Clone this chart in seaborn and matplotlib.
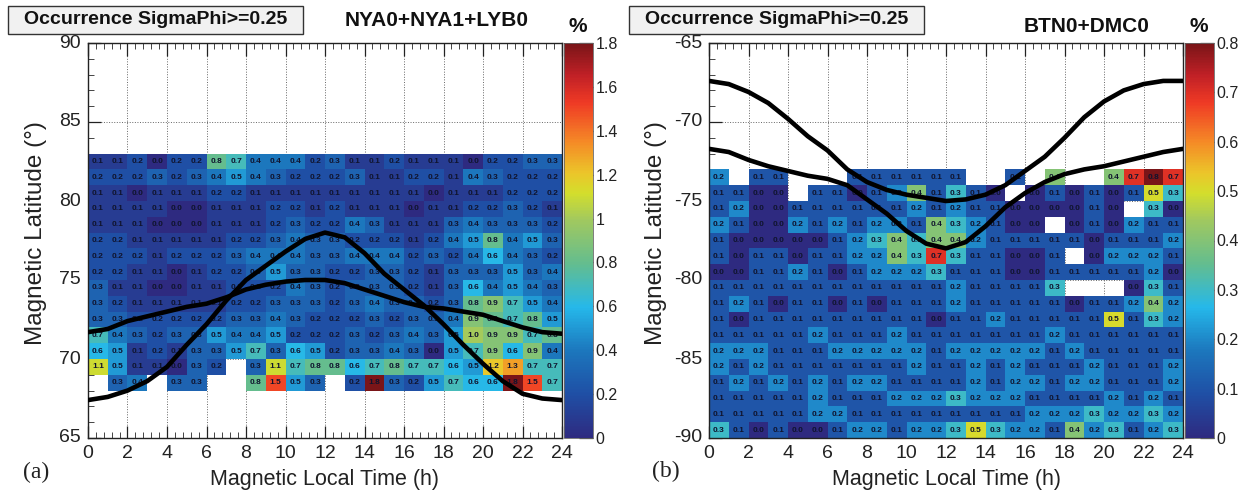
import numpy as np
import matplotlib
matplotlib.use("Agg")
import matplotlib.pyplot as plt
import seaborn as sns
from matplotlib.colors import LinearSegmentedColormap
from matplotlib.patches import Rectangle
from matplotlib.ticker import MultipleLocator

n = np.nan

# === Occurrence values, top row first, 24 one-hour columns ===
rows_a = [
    [0.1, 0.1, 0.2, 0.0, 0.2, 0.2, 0.8, 0.7, 0.4, 0.4, 0.4, 0.2, 0.3, 0.1, 0.1, 0.2, 0.1, 0.1, 0.1, 0.0, 0.2, 0.2, 0.3, 0.3],
    [0.2, 0.2, 0.2, 0.3, 0.2, 0.3, 0.4, 0.5, 0.4, 0.3, 0.2, 0.2, 0.2, 0.3, 0.1, 0.1, 0.2, 0.2, 0.1, 0.4, 0.3, 0.2, 0.2, 0.2],
    [0.1, 0.1, 0.0, 0.1, 0.1, 0.1, 0.2, 0.2, 0.1, 0.1, 0.1, 0.1, 0.1, 0.1, 0.1, 0.1, 0.1, 0.0, 0.1, 0.1, 0.1, 0.2, 0.2, 0.2],
    [0.1, 0.1, 0.1, 0.1, 0.0, 0.0, 0.1, 0.1, 0.1, 0.2, 0.2, 0.1, 0.2, 0.1, 0.1, 0.1, 0.0, 0.1, 0.1, 0.2, 0.2, 0.3, 0.2, 0.1],
    [0.1, 0.1, 0.1, 0.0, 0.0, 0.0, 0.1, 0.1, 0.1, 0.2, 0.3, 0.2, 0.2, 0.4, 0.3, 0.1, 0.1, 0.1, 0.3, 0.4, 0.3, 0.3, 0.3, 0.2],
    [0.2, 0.2, 0.1, 0.1, 0.1, 0.1, 0.1, 0.2, 0.2, 0.3, 0.4, 0.3, 0.3, 0.2, 0.2, 0.2, 0.1, 0.2, 0.4, 0.5, 0.8, 0.4, 0.5, 0.3],
    [0.2, 0.2, 0.2, 0.1, 0.2, 0.2, 0.2, 0.3, 0.4, 0.4, 0.4, 0.3, 0.3, 0.4, 0.4, 0.4, 0.2, 0.3, 0.2, 0.4, 0.6, 0.4, 0.3, 0.2],
    [0.2, 0.2, 0.1, 0.1, 0.0, 0.1, 0.2, 0.2, 0.3, 0.5, 0.3, 0.3, 0.2, 0.2, 0.3, 0.3, 0.2, 0.1, 0.3, 0.3, 0.3, 0.5, 0.3, 0.4],
    [0.3, 0.1, 0.1, 0.0, 0.0, 0.1, 0.1, 0.2, 0.2, 0.2, 0.4, 0.3, 0.2, 0.3, 0.3, 0.3, 0.2, 0.1, 0.3, 0.6, 0.4, 0.5, 0.4, 0.3],
    [0.3, 0.2, 0.1, 0.1, 0.1, 0.1, 0.1, 0.2, 0.2, 0.3, 0.3, 0.3, 0.2, 0.3, 0.4, 0.3, 0.3, 0.2, 0.3, 0.8, 0.9, 0.7, 0.5, 0.4],
    [0.3, 0.3, 0.2, 0.2, 0.2, 0.2, 0.2, 0.3, 0.3, 0.4, 0.3, 0.2, 0.2, 0.2, 0.3, 0.2, 0.3, 0.3, 0.4, 0.9, 0.8, 0.7, 0.8, 0.5],
    [0.7, 0.4, 0.3, 0.2, 0.3, 0.3, 0.5, 0.4, 0.4, 0.5, 0.2, 0.2, 0.2, 0.3, 0.2, 0.3, 0.4, 0.3, 0.5, 1.0, 0.9, 0.9, 0.7, 0.8],
    [0.6, 0.5, 0.1, 0.2, 0.1, 0.3, 0.3, 0.5, 0.7, 0.3, 0.6, 0.5, 0.2, 0.3, 0.3, 0.4, 0.3, 0.0, 0.5, 0.7, 0.9, 0.6, 0.9, 0.4],
    [1.1, 0.5, 0.1, 0.1, 0.0, 0.3, 0.2, n, 0.3, 1.1, 0.7, 0.8, 0.8, 0.6, 0.7, 0.8, 0.7, 0.7, 0.6, 0.5, 1.2, 1.3, 0.7, 0.7],
    [n, 0.3, 0.4, n, 0.3, 0.3, n, n, 0.8, 1.5, 0.5, 0.3, n, 0.2, 1.8, 0.3, 0.2, 0.5, 0.7, 0.6, 0.6, 1.8, 1.5, 0.7],
]
rows_b = [
    [0.2, n, 0.1, 0.1, n, n, n, 0.1, 0.1, 0.1, 0.1, 0.1, 0.1, n, n, 0.1, n, 0.4, n, n, 0.4, 0.7, 0.8, 0.7],
    [0.1, 0.1, 0.0, 0.0, n, 0.1, 0.1, 0.0, 0.1, 0.2, 0.4, 0.1, 0.3, 0.1, 0.0, n, 0.0, 0.1, 0.0, 0.1, 0.0, 0.1, 0.5, 0.3],
    [0.1, 0.2, 0.0, 0.0, 0.1, 0.1, 0.1, 0.1, 0.1, 0.1, 0.2, 0.1, 0.2, 0.1, 0.1, 0.0, 0.0, 0.0, 0.0, 0.1, 0.0, n, 0.3, 0.0],
    [0.2, 0.1, 0.0, 0.0, 0.2, 0.1, 0.2, 0.1, 0.2, 0.2, 0.1, 0.4, 0.3, 0.2, 0.1, 0.0, 0.0, n, 0.0, 0.1, 0.0, 0.2, 0.1, 0.1],
    [0.1, 0.0, 0.0, 0.0, 0.0, 0.0, 0.1, 0.2, 0.3, 0.4, 0.3, 0.4, 0.4, 0.2, 0.1, 0.1, 0.1, 0.1, 0.1, 0.0, 0.1, 0.1, 0.1, 0.2],
    [0.1, 0.0, 0.1, 0.1, 0.0, 0.1, 0.1, 0.2, 0.2, 0.4, 0.3, 0.7, 0.3, 0.1, 0.1, 0.0, 0.0, 0.1, n, 0.0, 0.2, 0.2, 0.2, 0.1],
    [0.0, 0.0, 0.1, 0.1, 0.2, 0.1, 0.0, 0.1, 0.2, 0.2, 0.2, 0.3, 0.1, 0.1, 0.1, 0.0, 0.0, 0.1, 0.1, 0.1, 0.1, 0.1, 0.2, 0.0],
    [0.1, 0.1, 0.1, 0.1, 0.1, 0.1, 0.1, 0.1, 0.1, 0.1, 0.1, 0.1, 0.2, 0.1, 0.1, 0.1, 0.1, 0.3, n, n, n, 0.0, 0.3, 0.1],
    [0.1, 0.2, 0.1, 0.0, 0.1, 0.1, 0.0, 0.1, 0.0, 0.1, 0.1, 0.1, 0.2, 0.1, 0.1, 0.1, 0.1, 0.1, 0.0, 0.1, 0.1, 0.2, 0.4, 0.2],
    [0.1, 0.0, 0.1, 0.1, 0.1, 0.1, 0.1, 0.1, 0.1, 0.1, 0.1, 0.0, 0.1, 0.1, 0.2, 0.1, 0.1, 0.1, 0.1, 0.1, 0.5, 0.1, 0.3, 0.2],
    [0.1, 0.1, 0.1, 0.1, 0.1, 0.2, 0.1, 0.1, 0.1, 0.2, 0.1, 0.1, 0.1, 0.1, 0.1, 0.1, 0.1, 0.2, 0.1, 0.1, 0.1, 0.1, 0.1, 0.1],
    [0.2, 0.2, 0.2, 0.1, 0.1, 0.1, 0.2, 0.2, 0.2, 0.2, 0.2, 0.1, 0.2, 0.2, 0.2, 0.2, 0.2, 0.1, 0.2, 0.1, 0.1, 0.1, 0.1, 0.1],
    [0.2, 0.1, 0.2, 0.1, 0.1, 0.1, 0.1, 0.1, 0.1, 0.1, 0.2, 0.1, 0.1, 0.2, 0.1, 0.2, 0.1, 0.1, 0.1, 0.2, 0.1, 0.1, 0.1, 0.2],
    [0.1, 0.2, 0.1, 0.2, 0.1, 0.2, 0.1, 0.2, 0.2, 0.1, 0.1, 0.1, 0.1, 0.2, 0.1, 0.2, 0.2, 0.1, 0.2, 0.2, 0.1, 0.1, 0.1, 0.2],
    [0.1, 0.1, 0.1, 0.1, 0.1, 0.2, 0.1, 0.1, 0.1, 0.2, 0.2, 0.2, 0.3, 0.2, 0.2, 0.2, 0.1, 0.1, 0.1, 0.1, 0.2, 0.1, 0.2, 0.1],
    [0.1, 0.1, 0.1, 0.1, 0.1, 0.2, 0.2, 0.1, 0.1, 0.1, 0.1, 0.1, 0.1, 0.1, 0.1, 0.1, 0.2, 0.2, 0.2, 0.3, 0.2, 0.2, 0.3, 0.2],
    [0.3, 0.1, 0.0, 0.1, 0.0, 0.0, 0.1, 0.2, 0.2, 0.1, 0.2, 0.2, 0.3, 0.5, 0.3, 0.2, 0.2, 0.1, 0.4, 0.2, 0.3, 0.1, 0.2, 0.3],
]

# === Boundary curves, one value per hour 0..24 ===
curve_hours = list(range(25))
lat_a1 = [67.4, 67.6, 68.0, 68.6, 69.5, 70.9, 72.2, 73.7, 75.0, 75.9, 76.8, 77.6, 78.0, 77.7, 76.7, 75.4, 74.4, 73.4, 72.2, 70.9, 69.7, 68.6, 67.8, 67.5, 67.4]
lat_a2 = [71.7, 71.9, 72.4, 72.7, 73.0, 73.3, 73.5, 73.9, 74.4, 74.7, 74.9, 75.0, 75.0, 74.8, 74.4, 74.0, 73.6, 73.3, 73.2, 73.0, 72.8, 72.4, 72.0, 71.7, 71.6]
lat_b1 = [-67.4, -67.6, -68.1, -68.8, -69.8, -70.9, -71.8, -73.0, -73.8, -74.3, -74.6, -74.8, -75.0, -74.9, -74.6, -74.0, -73.1, -72.2, -71.0, -69.7, -68.7, -68.0, -67.6, -67.4, -67.4]
lat_b2 = [-71.7, -71.9, -72.4, -72.8, -73.1, -73.4, -73.6, -74.0, -74.9, -75.8, -76.9, -77.7, -78.0, -77.6, -76.6, -75.4, -74.5, -73.8, -73.3, -73.0, -72.8, -72.5, -72.2, -71.9, -71.7]

hour_ticks = list(range(0, 25, 2))
lat_ticks_a = [90, 85, 80, 75, 70, 65]
lat_ticks_b = [-65, -70, -75, -80, -85, -90]
cbar_ticks_a = [0, 0.2, 0.4, 0.6, 0.8, 1, 1.2, 1.4, 1.6, 1.8]
cbar_ticks_b = [0, 0.1, 0.2, 0.3, 0.4, 0.5, 0.6, 0.7, 0.8]

sns.set_theme(style="ticks")
plt.rcParams["font.family"] = ["Liberation Sans", "DejaVu Sans"]

cmap = LinearSegmentedColormap.from_list("occ", [
    (0.00, "#2E2A80"), (0.11, "#1F4FA5"), (0.22, "#1C77BD"), (0.33, "#25B8EA"),
    (0.44, "#63BD8F"), (0.55, "#A0C860"), (0.62, "#D3DE2C"), (0.67, "#EBC62A"),
    (0.75, "#F58A26"), (0.85, "#EF3A25"), (0.92, "#C02026"), (1.00, "#7A1518"),
])

W, H = 1245, 497
fig = plt.figure(figsize=(W / 100, H / 100), dpi=100)


def px_axes(x0, y0, x1, y1):
    return fig.add_axes([x0 / W, 1 - y1 / H, (x1 - x0) / W, (y1 - y0) / H])


def draw_panel(x0, rows, top_lat, skip, vmax, cticks, lat_ticks, curves, ylabel_pad):
    ax = px_axes(x0, 43, x0 + 474, 438)
    cax = px_axes(x0 + 476, 43, x0 + 505, 438)

    # full 25x24 grid so the empty latitudes stay blank
    grid = np.full((25, 24), np.nan)
    grid[skip:skip + len(rows)] = np.array(rows)
    sns.heatmap(grid, ax=ax, cbar_ax=cax, cmap=cmap, vmin=0, vmax=vmax,
                annot=True, fmt=".1f",
                annot_kws={"size": 6, "weight": "bold", "color": "#10142e"})

    for lat in curves:
        ax.plot(curve_hours, [top_lat - v for v in lat], color="black", lw=3.3,
                solid_joinstyle="round", zorder=4)

    ax.set_xlim(0, 24)
    ax.set_ylim(25, 0)
    ax.set_xticks(hour_ticks)
    ax.set_xticklabels(hour_ticks, rotation=0)
    ax.set_yticks([top_lat - v for v in lat_ticks])
    ax.set_yticklabels(lat_ticks, rotation=0)
    ax.xaxis.set_minor_locator(MultipleLocator(0.4))
    ax.yaxis.set_minor_locator(MultipleLocator(1))
    ax.tick_params(which="major", direction="in", length=9, width=0.9, top=True,
                   labelsize=14, colors="#222222", pad=5)
    ax.tick_params(which="minor", direction="in", length=4, width=0.7, top=True, color="#444444")
    ax.grid(True, which="major", ls=":", lw=0.7, color="#666666")
    for s in ax.spines.values():
        s.set_visible(True)
        s.set_color("#222222")
        s.set_linewidth(1.0)
    ax.set_xlabel("Magnetic Local Time (h)", fontsize=15.5, color="#222222", labelpad=5)
    ax.set_ylabel("Magnetic Latitude (°)", fontsize=17.5, color="#222222",
                  labelpad=ylabel_pad, y=0.52)

    cbar = ax.collections[0].colorbar
    cbar.set_ticks(cticks)
    cbar.set_ticklabels([f"{t:g}" for t in cticks])
    cbar.minorticks_off()
    cax.tick_params(direction="in", length=10, width=0.9, labelsize=11.5,
                    colors="#222222", pad=2)
    cbar.outline.set_visible(True)
    cbar.outline.set_edgecolor("#666666")
    cbar.outline.set_linewidth(0.6)
    return ax


draw_panel(88, rows_a, 90, 7, 1.8, cbar_ticks_a, lat_ticks_a, [lat_a1, lat_a2], 9)
draw_panel(709, rows_b, -65, 8, 0.8, cbar_ticks_b, lat_ticks_b, [lat_b1, lat_b2], 5)

# header boxes and labels, placed in figure pixels
for bx in (8, 629):
    fig.add_artist(Rectangle((bx / W, 1 - 34 / H), 295 / W, 28 / H, transform=fig.transFigure,
                             fc="#f1f1f1", ec="#333333", lw=1.0))
    fig.text((bx + 148) / W, 1 - 20 / H, "Occurrence SigmaPhi>=0.25", ha="center", va="center",
             fontsize=14, fontweight="bold", color="#111111")

fig.text(437 / W, 1 - 21 / H, "NYA0+NYA1+LYB0", ha="center", va="center",
         fontsize=15, fontweight="bold", color="#111111")
fig.text(1087 / W, 1 - 27 / H, "BTN0+DMC0", ha="center", va="center",
         fontsize=15, fontweight="bold", color="#111111")
fig.text(578 / W, 1 - 27 / H, "%", ha="center", va="center", fontsize=15, fontweight="bold", color="#111111")
fig.text(1199 / W, 1 - 27 / H, "%", ha="center", va="center", fontsize=15, fontweight="bold", color="#111111")
fig.text(36 / W, 1 - 472 / H, "(a)", ha="center", va="center", fontsize=17,
         family=["Liberation Serif", "DejaVu Serif"], color="#222222")
fig.text(666 / W, 1 - 471 / H, "(b)", ha="center", va="center", fontsize=17,
         family=["Liberation Serif", "DejaVu Serif"], color="#222222")

fig.savefig("out.png", dpi=100)
